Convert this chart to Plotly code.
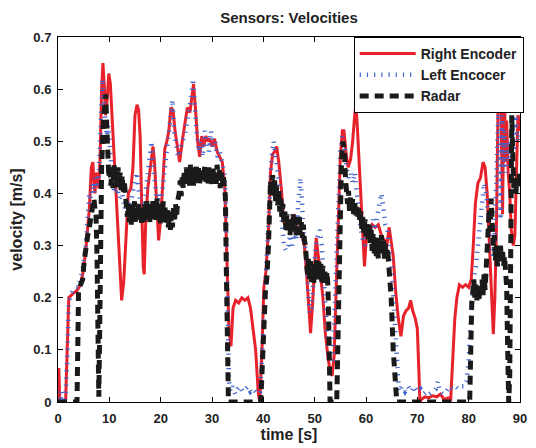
import plotly.graph_objects as go

# Wheel encoders and radar speed over one run: (time [s], velocity [m/s])
right_encoder = [
    (0.0, 0.0), (0.15, 0.065), (0.35, 0.0), (1.0, 0.0), (1.5, 0.005), (1.8, 0.10), (2.1, 0.20),
    (2.6, 0.205), (3.2, 0.21), (3.8, 0.215), (4.4, 0.225), (4.9, 0.25), (5.4, 0.29), (5.8, 0.33),
    (6.1, 0.37), (6.5, 0.45), (6.8, 0.46), (7.0, 0.42), (7.2, 0.40), (7.45, 0.44), (7.7, 0.43),
    (7.95, 0.41), (8.2, 0.47), (8.5, 0.60), (8.75, 0.65), (9.0, 0.61), (9.25, 0.55), (9.5, 0.57),
    (9.9, 0.63), (10.2, 0.61), (10.5, 0.55), (11.0, 0.45), (11.5, 0.36), (12.0, 0.26), (12.4, 0.195),
    (12.8, 0.23), (13.2, 0.31), (13.7, 0.40), (14.2, 0.41), (14.6, 0.45), (15.0, 0.55), (15.4, 0.57),
    (15.7, 0.56), (16.0, 0.51), (16.3, 0.38), (16.6, 0.26), (16.8, 0.245), (17.1, 0.35), (17.5, 0.41),
    (18.0, 0.45), (18.5, 0.49), (18.8, 0.46), (19.1, 0.41), (19.6, 0.31), (20.0, 0.35), (20.4, 0.43),
    (20.8, 0.485), (21.2, 0.50), (21.6, 0.52), (22.0, 0.565), (22.4, 0.56), (22.8, 0.52), (23.2, 0.49),
    (23.7, 0.46), (24.2, 0.50), (24.7, 0.53), (25.2, 0.565), (25.7, 0.555), (26.0, 0.58), (26.4, 0.61),
    (26.8, 0.56), (27.2, 0.50), (27.6, 0.47), (28.0, 0.51), (28.4, 0.49), (28.8, 0.51), (29.2, 0.50),
    (29.6, 0.505), (30.0, 0.49), (30.5, 0.505), (31.0, 0.48), (31.5, 0.47), (32.0, 0.46), (32.5, 0.41),
    (32.8, 0.30), (33.0, 0.23), (33.3, 0.14), (33.7, 0.107), (34.1, 0.18), (34.6, 0.195), (35.2, 0.19),
    (35.8, 0.20), (36.4, 0.195), (37.0, 0.20), (37.5, 0.18), (38.0, 0.14), (38.5, 0.10), (39.0, 0.02),
    (39.3, 0.0), (39.7, 0.09), (40.1, 0.22), (40.5, 0.25), (41.0, 0.33), (41.4, 0.44), (41.8, 0.475),
    (42.2, 0.48), (42.6, 0.49), (43.0, 0.46), (43.5, 0.41), (44.0, 0.345), (44.5, 0.335), (45.0, 0.34),
    (45.5, 0.35), (46.0, 0.36), (46.5, 0.335), (47.0, 0.33), (47.5, 0.32), (48.0, 0.30), (48.4, 0.25),
    (48.8, 0.19), (49.2, 0.132), (49.6, 0.19), (50.0, 0.28), (50.3, 0.315), (50.7, 0.28), (51.1, 0.25),
    (51.6, 0.20), (52.1, 0.13), (52.6, 0.085), (53.0, 0.06), (53.4, 0.05), (53.8, 0.09), (54.2, 0.22),
    (54.6, 0.36), (55.0, 0.47), (55.4, 0.52), (55.7, 0.52), (56.1, 0.48), (56.5, 0.45), (57.0, 0.465),
    (57.4, 0.50), (57.8, 0.55), (58.05, 0.57), (58.3, 0.53), (58.6, 0.47), (58.9, 0.40), (59.3, 0.32),
    (59.7, 0.26), (60.1, 0.32), (60.6, 0.32), (61.2, 0.34), (61.8, 0.335), (62.4, 0.34), (63.0, 0.32),
    (63.6, 0.31), (64.0, 0.295), (64.5, 0.335), (64.9, 0.31), (65.3, 0.28), (65.8, 0.21), (66.3, 0.16),
    (66.8, 0.126), (67.3, 0.165), (67.8, 0.175), (68.3, 0.18), (68.7, 0.195), (69.1, 0.175), (69.6, 0.16),
    (70.0, 0.14), (70.3, 0.06), (70.5, 0.0), (70.8, 0.005), (71.5, 0.01), (72.2, 0.008), (73.0, 0.012),
    (73.8, 0.01), (74.5, 0.015), (75.2, 0.005), (76.0, 0.008), (76.5, 0.005), (76.9, 0.09), (77.3, 0.16),
    (77.7, 0.20), (78.2, 0.225), (78.8, 0.22), (79.4, 0.225), (80.0, 0.22), (80.5, 0.235), (80.9, 0.30),
    (81.3, 0.38), (81.8, 0.42), (82.3, 0.43), (82.8, 0.46), (83.2, 0.45), (83.6, 0.40), (84.0, 0.30),
    (84.4, 0.20), (84.8, 0.13), (85.1, 0.20), (85.4, 0.33), (85.7, 0.55), (86.0, 0.68), (86.2, 0.72),
    (86.4, 0.50), (86.6, 0.36), (86.8, 0.52), (87.0, 0.58), (87.2, 0.46), (87.4, 0.54), (87.7, 0.44),
    (88.0, 0.40), (88.3, 0.33), (88.7, 0.30), (89.0, 0.32), (89.3, 0.44), (89.6, 0.55), (89.85, 0.54),
    (90.0, 0.52),
]

left_encoder = [
    (0.0, 0.02), (0.4, 0.0), (0.8, 0.02), (1.2, 0.005), (1.5, 0.02), (1.8, 0.08), (2.1, 0.19),
    (2.5, 0.205), (3.0, 0.215), (3.5, 0.22), (4.0, 0.22), (4.4, 0.235), (4.9, 0.26), (5.4, 0.30),
    (5.8, 0.36), (6.1, 0.40), (6.4, 0.39), (6.7, 0.42), (7.0, 0.40), (7.3, 0.43), (7.6, 0.41),
    (7.9, 0.42), (8.2, 0.50), (8.5, 0.60), (8.7, 0.62), (8.9, 0.58), (9.2, 0.53), (9.5, 0.51),
    (9.8, 0.53), (10.1, 0.49), (10.5, 0.44), (11.0, 0.40), (11.5, 0.41), (12.0, 0.39), (12.5, 0.40),
    (13.0, 0.37), (13.5, 0.39), (14.0, 0.36), (14.5, 0.40), (15.0, 0.42), (15.4, 0.44), (15.8, 0.40),
    (16.2, 0.37), (16.6, 0.36), (17.0, 0.40), (17.4, 0.42), (17.8, 0.46), (18.2, 0.50), (18.5, 0.46),
    (18.9, 0.42), (19.3, 0.38), (19.7, 0.40), (20.1, 0.39), (20.5, 0.42), (21.0, 0.47), (21.5, 0.50),
    (22.0, 0.55), (22.3, 0.58), (22.6, 0.52), (23.0, 0.49), (23.4, 0.47), (23.8, 0.48), (24.2, 0.50),
    (24.7, 0.51), (25.2, 0.54), (25.7, 0.56), (26.0, 0.59), (26.3, 0.62), (26.6, 0.57), (27.0, 0.52),
    (27.4, 0.48), (27.8, 0.50), (28.2, 0.47), (28.6, 0.52), (29.0, 0.50), (29.4, 0.48), (29.8, 0.52),
    (30.2, 0.49), (30.6, 0.50), (31.0, 0.47), (31.5, 0.48), (32.0, 0.46), (32.4, 0.44), (32.7, 0.38),
    (32.9, 0.25), (33.1, 0.12), (33.3, 0.04), (33.6, 0.02), (34.0, 0.03), (34.5, 0.015), (35.0, 0.025),
    (35.5, 0.03), (36.0, 0.02), (36.5, 0.025), (37.0, 0.03), (37.5, 0.02), (38.0, 0.025), (38.5, 0.02),
    (39.0, 0.015), (39.4, 0.02), (39.7, 0.08), (40.0, 0.18), (40.4, 0.26), (40.8, 0.33), (41.2, 0.41),
    (41.6, 0.47), (42.0, 0.50), (42.4, 0.47), (42.8, 0.45), (43.2, 0.41), (43.6, 0.35), (44.0, 0.30),
    (44.4, 0.29), (44.8, 0.30), (45.2, 0.32), (45.6, 0.30), (46.0, 0.33), (46.4, 0.31), (46.8, 0.38),
    (47.2, 0.43), (47.5, 0.39), (47.9, 0.31), (48.3, 0.29), (48.7, 0.20), (49.0, 0.17), (49.4, 0.18),
    (49.8, 0.25), (50.2, 0.30), (50.6, 0.32), (51.0, 0.33), (51.4, 0.30), (51.8, 0.22), (52.2, 0.15),
    (52.6, 0.10), (53.0, 0.075), (53.4, 0.08), (53.8, 0.15), (54.2, 0.28), (54.6, 0.40), (55.0, 0.48),
    (55.4, 0.51), (55.8, 0.49), (56.2, 0.45), (56.6, 0.43), (57.0, 0.44), (57.4, 0.42), (57.8, 0.44),
    (58.2, 0.40), (58.6, 0.36), (59.0, 0.33), (59.4, 0.31), (59.8, 0.30), (60.2, 0.32), (60.6, 0.34),
    (61.0, 0.31), (61.4, 0.35), (61.8, 0.33), (62.2, 0.36), (62.6, 0.38), (63.0, 0.40), (63.4, 0.36),
    (63.8, 0.34), (64.2, 0.33), (64.6, 0.30), (65.0, 0.26), (65.4, 0.19), (65.8, 0.12), (66.1, 0.05),
    (66.4, 0.02), (67.0, 0.03), (67.6, 0.02), (68.2, 0.03), (68.8, 0.02), (69.4, 0.03), (70.0, 0.02),
    (70.6, 0.025), (71.2, 0.015), (71.8, 0.02), (72.4, 0.015), (73.0, 0.02), (73.6, 0.025), (74.0, 0.04),
    (74.4, 0.02), (75.0, 0.015), (75.6, 0.02), (76.2, 0.03), (76.8, 0.025), (77.4, 0.03), (78.0, 0.025),
    (78.6, 0.03), (79.2, 0.03), (79.6, 0.04), (80.0, 0.08), (80.3, 0.14), (80.6, 0.19), (81.0, 0.24),
    (81.4, 0.26), (81.8, 0.30), (82.2, 0.33), (82.6, 0.38), (83.0, 0.42), (83.4, 0.40), (83.8, 0.36),
    (84.2, 0.31), (84.6, 0.28), (85.0, 0.30), (85.3, 0.40), (85.6, 0.52), (85.8, 0.56), (86.0, 0.45),
    (86.2, 0.35), (86.4, 0.50), (86.6, 0.55), (86.8, 0.45), (87.0, 0.52), (87.3, 0.44), (87.6, 0.50),
    (88.0, 0.46), (88.4, 0.52), (88.8, 0.48), (89.2, 0.55), (89.6, 0.50), (90.0, 0.52),
]

radar = [
    (0.0, 0.0), (3.7, 0.0), (3.85, 0.10), (4.0, 0.21), (4.4, 0.225), (4.8, 0.235), (5.1, 0.27),
    (5.4, 0.30), (5.8, 0.32), (6.1, 0.335), (6.4, 0.36), (6.7, 0.385), (7.0, 0.39), (7.2, 0.37),
    (7.4, 0.36), (7.6, 0.28), (7.8, 0.12), (7.95, 0.01), (8.1, 0.12), (8.3, 0.38), (8.5, 0.45),
    (8.8, 0.53), (9.1, 0.57), (9.3, 0.59), (9.5, 0.53), (9.7, 0.46), (9.9, 0.43),
    (10.1, 0.455), (10.3, 0.415), (10.5, 0.445), (10.7, 0.41), (10.9, 0.455), (11.1, 0.425), (11.3, 0.445),
    (11.5, 0.41), (11.7, 0.45), (11.9, 0.415), (12.1, 0.44), (12.3, 0.405), (12.5, 0.435), (12.7, 0.40),
    (12.9, 0.425), (13.1, 0.39), (13.3, 0.38),
    (13.5, 0.355), (13.7, 0.38), (13.9, 0.345), (14.1, 0.375), (14.3, 0.34), (14.5, 0.38), (14.7, 0.35),
    (14.9, 0.385), (15.1, 0.345), (15.3, 0.375), (15.5, 0.35), (15.7, 0.38), (15.9, 0.345), (16.1, 0.37),
    (16.3, 0.34), (16.5, 0.375), (16.7, 0.345), (16.9, 0.38), (17.1, 0.35), (17.3, 0.385), (17.5, 0.355),
    (17.7, 0.38), (17.9, 0.345), (18.1, 0.375), (18.3, 0.355), (18.5, 0.385), (18.7, 0.35), (18.9, 0.38),
    (19.1, 0.345), (19.3, 0.39), (19.5, 0.355), (19.7, 0.38), (19.9, 0.34), (20.1, 0.375), (20.3, 0.345),
    (20.5, 0.385), (20.7, 0.35), (20.9, 0.375), (21.1, 0.34), (21.3, 0.37), (21.5, 0.335), (21.7, 0.365),
    (21.9, 0.33), (22.1, 0.36), (22.3, 0.335), (22.5, 0.375), (22.7, 0.345), (22.9, 0.38), (23.1, 0.355),
    (23.3, 0.385),
    (23.6, 0.40), (23.8, 0.425), (24.0, 0.395), (24.2, 0.435), (24.4, 0.41), (24.6, 0.445), (24.8, 0.415),
    (25.0, 0.45), (25.2, 0.42), (25.4, 0.445), (25.6, 0.415), (25.8, 0.455), (26.0, 0.425), (26.2, 0.45),
    (26.4, 0.415), (26.6, 0.445), (26.8, 0.42), (27.0, 0.455), (27.2, 0.425), (27.4, 0.45), (27.6, 0.415),
    (27.8, 0.445), (28.0, 0.42), (28.2, 0.45), (28.4, 0.425), (28.6, 0.455), (28.8, 0.42), (29.0, 0.445),
    (29.2, 0.415), (29.4, 0.45), (29.6, 0.425), (29.8, 0.445), (30.0, 0.415), (30.2, 0.45), (30.4, 0.42),
    (30.6, 0.445), (30.8, 0.415), (31.0, 0.455), (31.2, 0.425), (31.4, 0.445), (31.6, 0.41), (31.8, 0.44),
    (32.0, 0.415), (32.2, 0.435), (32.4, 0.405), (32.6, 0.395),
    (32.8, 0.25), (33.0, 0.08), (33.2, 0.0), (39.5, 0.0), (39.8, 0.05), (40.1, 0.14), (40.4, 0.21),
    (40.7, 0.24), (41.0, 0.30), (41.2, 0.38), (41.4, 0.425), (41.6, 0.395), (41.8, 0.435), (42.0, 0.405),
    (42.2, 0.425), (42.4, 0.385), (42.6, 0.415), (42.8, 0.375), (43.0, 0.405), (43.2, 0.365), (43.4, 0.39),
    (43.6, 0.355), (43.8, 0.38), (44.0, 0.345),
    (44.2, 0.365), (44.4, 0.33), (44.6, 0.36), (44.8, 0.325), (45.0, 0.355), (45.2, 0.32), (45.4, 0.35),
    (45.6, 0.325), (45.8, 0.36), (46.0, 0.33), (46.2, 0.355), (46.4, 0.32), (46.6, 0.35), (46.8, 0.325),
    (47.0, 0.355), (47.2, 0.32), (47.4, 0.345), (47.6, 0.315), (47.8, 0.34), (48.0, 0.31), (48.2, 0.30),
    (48.4, 0.27), (48.6, 0.245), (48.8, 0.275), (49.0, 0.235), (49.2, 0.27), (49.4, 0.23), (49.6, 0.26),
    (49.8, 0.225), (50.0, 0.265), (50.2, 0.235), (50.4, 0.275), (50.6, 0.24), (50.8, 0.27), (51.0, 0.235),
    (51.2, 0.265), (51.4, 0.23), (51.6, 0.26), (51.8, 0.225), (52.0, 0.255), (52.2, 0.225), (52.4, 0.25),
    (52.6, 0.22),
    (52.8, 0.12), (53.0, 0.0), (54.3, 0.0), (54.6, 0.18), (54.9, 0.35), (55.2, 0.45), (55.5, 0.50),
    (55.8, 0.48), (56.0, 0.43), (56.2, 0.40), (56.4, 0.38), (56.6, 0.405), (56.8, 0.365), (57.0, 0.395),
    (57.2, 0.365), (57.4, 0.39), (57.6, 0.355), (57.8, 0.385), (58.0, 0.355), (58.2, 0.38), (58.4, 0.35),
    (58.6, 0.375), (58.8, 0.345), (59.0, 0.365), (59.2, 0.33), (59.4, 0.355), (59.6, 0.325), (59.8, 0.35),
    (60.0, 0.315), (60.2, 0.345), (60.4, 0.31), (60.6, 0.34), (60.8, 0.305), (61.0, 0.33), (61.2, 0.29),
    (61.4, 0.325), (61.6, 0.285), (61.8, 0.315), (62.0, 0.28), (62.2, 0.31), (62.4, 0.275), (62.6, 0.315),
    (62.8, 0.285), (63.0, 0.32), (63.2, 0.285), (63.4, 0.31), (63.6, 0.275), (63.8, 0.305), (64.0, 0.27),
    (64.2, 0.295), (64.4, 0.265), (64.6, 0.26),
    (64.9, 0.20), (65.3, 0.10), (65.7, 0.02), (66.0, 0.0), (80.2, 0.0), (80.4, 0.12), (80.6, 0.19),
    (80.8, 0.21), (81.0, 0.235), (81.2, 0.20), (81.4, 0.225), (81.6, 0.195), (81.8, 0.22), (82.0, 0.195),
    (82.2, 0.225), (82.4, 0.20), (82.6, 0.235), (82.8, 0.205), (83.0, 0.245), (83.2, 0.215), (83.4, 0.25),
    (83.6, 0.27), (83.8, 0.33), (84.0, 0.37), (84.2, 0.33), (84.4, 0.39), (84.6, 0.34), (84.8, 0.30),
    (85.0, 0.32), (85.2, 0.27), (85.4, 0.30), (85.6, 0.26), (85.8, 0.29), (86.0, 0.27), (86.2, 0.30),
    (86.4, 0.27), (86.6, 0.29), (86.8, 0.26), (87.0, 0.28), (87.2, 0.25), (87.4, 0.22),
    (87.6, 0.10), (87.8, 0.0), (88.0, 0.05), (88.2, 0.30), (88.4, 0.55), (88.6, 0.47), (88.8, 0.41),
    (89.0, 0.43), (89.2, 0.40), (89.4, 0.43), (89.6, 0.41), (89.8, 0.44), (90.0, 0.42),
]

x_ticks = [0, 10, 20, 30, 40, 50, 60, 70, 80, 90]
y_ticks = [0, 0.1, 0.2, 0.3, 0.4, 0.5, 0.6, 0.7]

FONT = "Liberation Sans, Arial, Helvetica, sans-serif"


def split(pairs):
    return [p[0] for p in pairs], [p[1] for p in pairs]


fig = go.Figure()

t, v = split(right_encoder)
fig.add_trace(go.Scatter(x=t, y=v, mode="lines", name="Right Encoder",
                         line=dict(color="#E8222B", width=3)))

t, v = split(left_encoder)
fig.add_trace(go.Scatter(x=t, y=v, mode="lines", name="Left Encocer",
                         line=dict(color="#3F62CC", width=4.5, dash="1.2px,6px")))

t, v = split(radar)
fig.add_trace(go.Scatter(x=t, y=v, mode="lines", name="Radar",
                         line=dict(color="#1A1A1A", width=5, dash="9px,6px")))

axis_common = dict(
    showline=True, linecolor="black", linewidth=1, mirror="ticks",
    ticks="inside", ticklen=5, tickcolor="black", showgrid=False, zeroline=False,
    tickfont=dict(family=FONT, size=13, color="#222", weight="bold"),
)

fig.update_layout(
    width=536, height=448,
    margin=dict(l=58, r=9, t=37, b=42),
    paper_bgcolor="white", plot_bgcolor="white",
    title=dict(text="Sensors: Velocities", x=0.5, xref="paper", y=0.96, yref="container",
               yanchor="middle",
               font=dict(family=FONT, size=15, color="#222", weight="bold")),
    xaxis=dict(range=[0, 90], tickvals=x_ticks, ticklabelstandoff=4,
               title=dict(text="time [s]", standoff=2,
                          font=dict(family=FONT, size=16, color="#222", weight="bold")),
               **axis_common),
    yaxis=dict(range=[0, 0.7], tickvals=y_ticks, ticklabelstandoff=3,
               title=dict(text="velocity [m/s]", standoff=6,
                          font=dict(family=FONT, size=16, color="#222", weight="bold")),
               **axis_common),
    legend=dict(x=1.008, y=1, xanchor="right", yanchor="top",
                bgcolor="white", bordercolor="black", borderwidth=1,
                itemwidth=56,
                font=dict(family=FONT, size=14, color="#222", weight="bold")),
    showlegend=True,
)

fig.write_html("out.html")
